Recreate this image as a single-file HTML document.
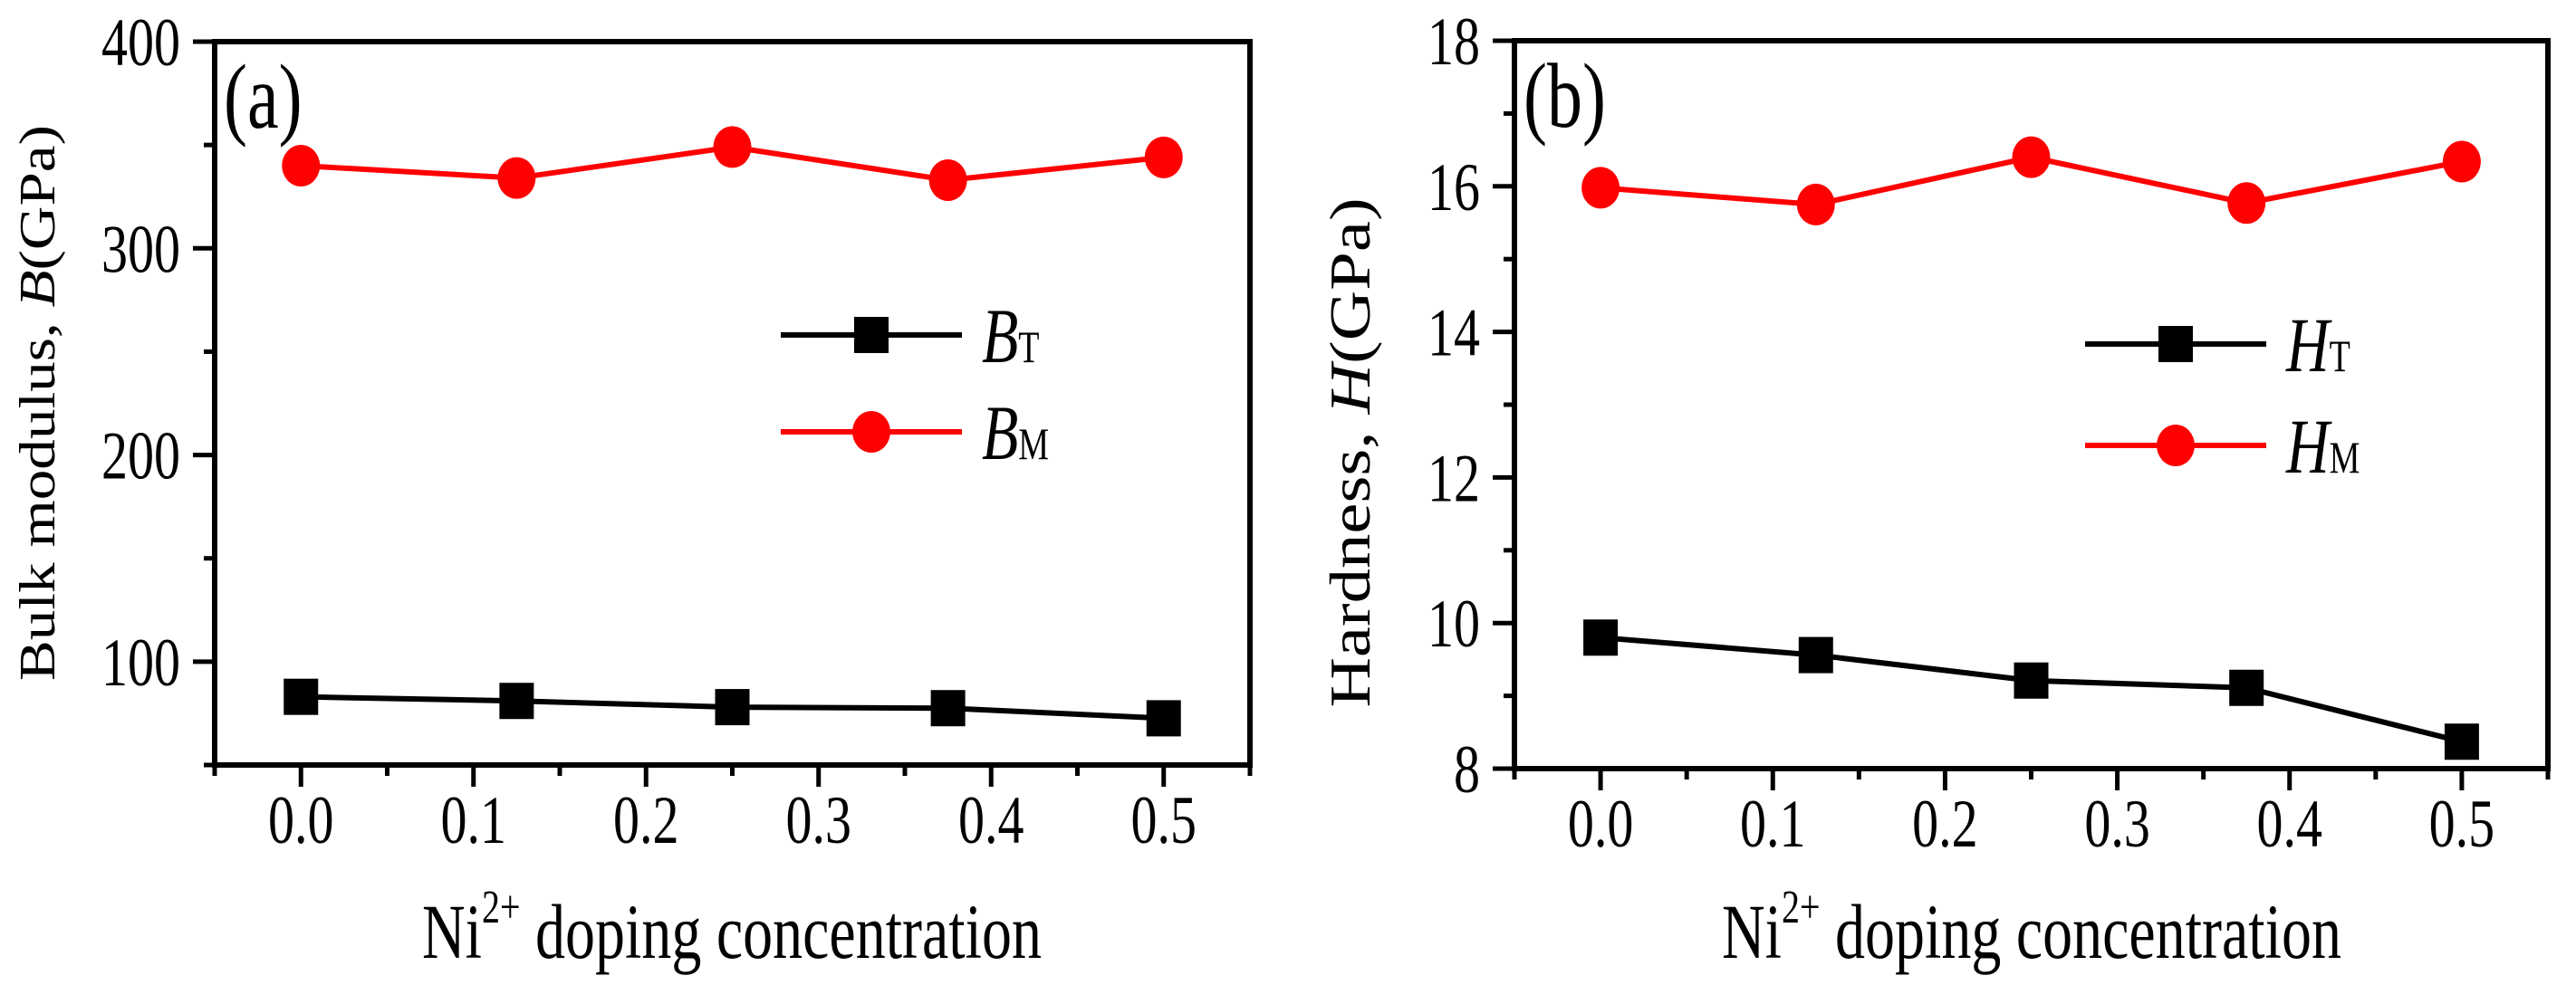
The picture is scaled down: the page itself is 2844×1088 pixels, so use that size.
<!DOCTYPE html>
<html><head><meta charset="utf-8"><style>
html,body{margin:0;padding:0;background:#fff;}
svg{display:block;font-family:"Liberation Serif",serif;}
</style></head><body>
<svg id="chart" width="2844" height="1088" viewBox="0 0 2844 1088" xmlns="http://www.w3.org/2000/svg"></svg>
<script>
const categories = [0, 0.125, 0.25, 0.375, 0.5];
const bulkT = [83, 81, 78, 77.5, 72.6];
const bulkM = [340, 334, 349, 333, 344];
const hardT = [9.80, 9.56, 9.21, 9.11, 8.37];
const hardM = [15.98, 15.75, 16.40, 15.77, 16.34];
const xTickLabels = ["0.0","0.1","0.2","0.3","0.4","0.5"];
const bulkTickLabels = ["100","200","300","400"];
const hardTickLabels = ["8","10","12","14","16","18"];

const NS = "http://www.w3.org/2000/svg";
const svg = document.getElementById('chart');
function mk(tag, attrs, parent, text){
  const e = document.createElementNS(NS, tag);
  for (const k in attrs) e.setAttribute(k, attrs[k]);
  if (text !== undefined) e.textContent = text;
  (parent||svg).appendChild(e);
  return e;
}
const SY = 1.3;
function stext(x, y, attrs, parent, text){
  const a = Object.assign({x:0, y:0, transform:`translate(${x},${y}) scale(1,${SY})`}, attrs);
  return mk('text', a, parent, text);
}

function panel(cfg){
  const g = mk('g', {});
  
  
  const L=cfg.L, R=cfg.R, T=cfg.T, B=cfg.B;
  const xs = v => L + (v - (-0.05)) / 0.6 * (R - L);
  const ys = v => B - (v - cfg.ymin) / (cfg.ymax - cfg.ymin) * (B - T);
  const frame = mk('rect', {x:L, y:T, width:R-L, height:B-T, fill:'none', stroke:'#000', 'stroke-width':6}, g);
  
  
  for (let i = -1; i <= 11; i++) {
    const v = i * 0.05;
    const major = i >= 0 && i % 2 === 0;
    mk('line', {x1:xs(v), x2:xs(v), y1:B, y2:B + (major ? 24 : 12), stroke:'#000', 'stroke-width':5}, g);
  }
  xTickLabels.forEach((lab, i) => {
    const t = stext(xs(i*0.1), B+86, {'font-size':58, 'text-anchor':'middle'}, g, lab);
    
    
  });
  for (let v = cfg.ymin; v <= cfg.ymax + 1e-9; v += cfg.minorStep) {
    const major = Math.abs((v / cfg.majorStep) - Math.round(v / cfg.majorStep)) < 1e-6;
    mk('line', {x1:L, x2:L - (major ? 24 : 12), y1:ys(v), y2:ys(v), stroke:'#000', 'stroke-width':5}, g);
  }
  cfg.yLabels.forEach(lab => {
    const t = stext(L-38, ys(parseFloat(lab))+26, {'font-size':58, 'text-anchor':'end'}, g, lab);
    
    
  });
  const xt = stext(cfg.xTitleX, 1058, {'font-size':66, 'text-anchor':'middle'}, g);
  
  
  mk('tspan', {}, xt, 'Ni');
  mk('tspan', {'font-size':40, dy:-30}, xt, '2+');
  mk('tspan', {dy:30}, xt, ' doping concentration');
  const yt = mk('text', {x:0, y:0, 'font-size':cfg.yTitleSize, 'text-anchor':'middle', transform:`translate(${cfg.yTitleX},${cfg.yTitleY}) rotate(-90) scale(1.2,1)`}, g);
  
  
  mk('tspan', {}, yt, cfg.yTitle[0]);
  mk('tspan', {'font-style':'italic'}, yt, cfg.yTitle[1]);
  mk('tspan', {}, yt, '(GPa)');
  const pl = stext(L+10, T+95, {'font-size':78}, g, cfg.tag);
  
  
  function series(vals, color, shape, nm){
    const sg = mk('g', {}, g);
    
    
    const pts = categories.map((c,i)=>xs(c)+','+ys(vals[i])).join(' ');
    mk('polyline', {points:pts, fill:'none', stroke:color, 'stroke-width':6}, sg);
    categories.forEach((c,i)=>{
      let m;
      if (shape==='sq') m = mk('rect', {x:xs(c)-19, y:ys(vals[i])-20, width:38, height:40, fill:color}, sg);
      else m = mk('ellipse', {cx:xs(c), cy:ys(vals[i]), rx:21, ry:23, fill:color}, sg);
      
      
    });
  }
  series(cfg.t, '#000', 'sq', 'series-T');
  series(cfg.m, '#ff0000', 'ci', 'series-M');
  const lg = mk('g', {}, g);
  
  
  const entries = [[cfg.legY[0], '#000', 'sq', 'T'], [cfg.legY[1], '#ff0000', 'ci', 'M']];
  entries.forEach(([y, col, shp, sub]) => {
    const eg = mk('g', {}, lg);
    
    
    const x1 = cfg.legX, x2 = cfg.legX + 200, xm = (x1+x2)/2;
    mk('line', {x1:x1, x2:x2, y1:y, y2:y, stroke:col, 'stroke-width':6}, eg);
    if (shp==='sq') mk('rect', {x:xm-19, y:y-20, width:38, height:40, fill:col}, eg);
    else mk('ellipse', {cx:xm, cy:y, rx:21, ry:23, fill:col}, eg);
    const tx = stext(x2+22, y+30, {'font-size':66}, eg);
    mk('tspan', {'font-style':'italic'}, tx, cfg.sym);
    mk('tspan', {'font-size':38}, tx, sub);
  });
}

panel({name:'panel-a-bulk-modulus', L:237, R:1380, T:46, B:845, ymin:50, ymax:400, majorStep:100, minorStep:50,
  yLabels:bulkTickLabels, t:bulkT, m:bulkM, tag:'(a)', sym:'B', yTitle:['Bulk modulus, ','B'], yTitleSize:56,
  yTitleX:60, yTitleY:445, xTitleX:808, legX:862, legY:[370, 477]});
panel({name:'panel-b-hardness', L:1672, R:2813, T:45, B:849, ymin:8, ymax:18, majorStep:2, minorStep:1,
  yLabels:hardTickLabels, t:hardT, m:hardM, tag:'(b)', sym:'H', yTitle:['Hardness, ','H'], yTitleSize:64,
  yTitleX:1512, yTitleY:500, xTitleX:2243, legX:2302, legY:[380, 492]});
</script>
</body></html>
